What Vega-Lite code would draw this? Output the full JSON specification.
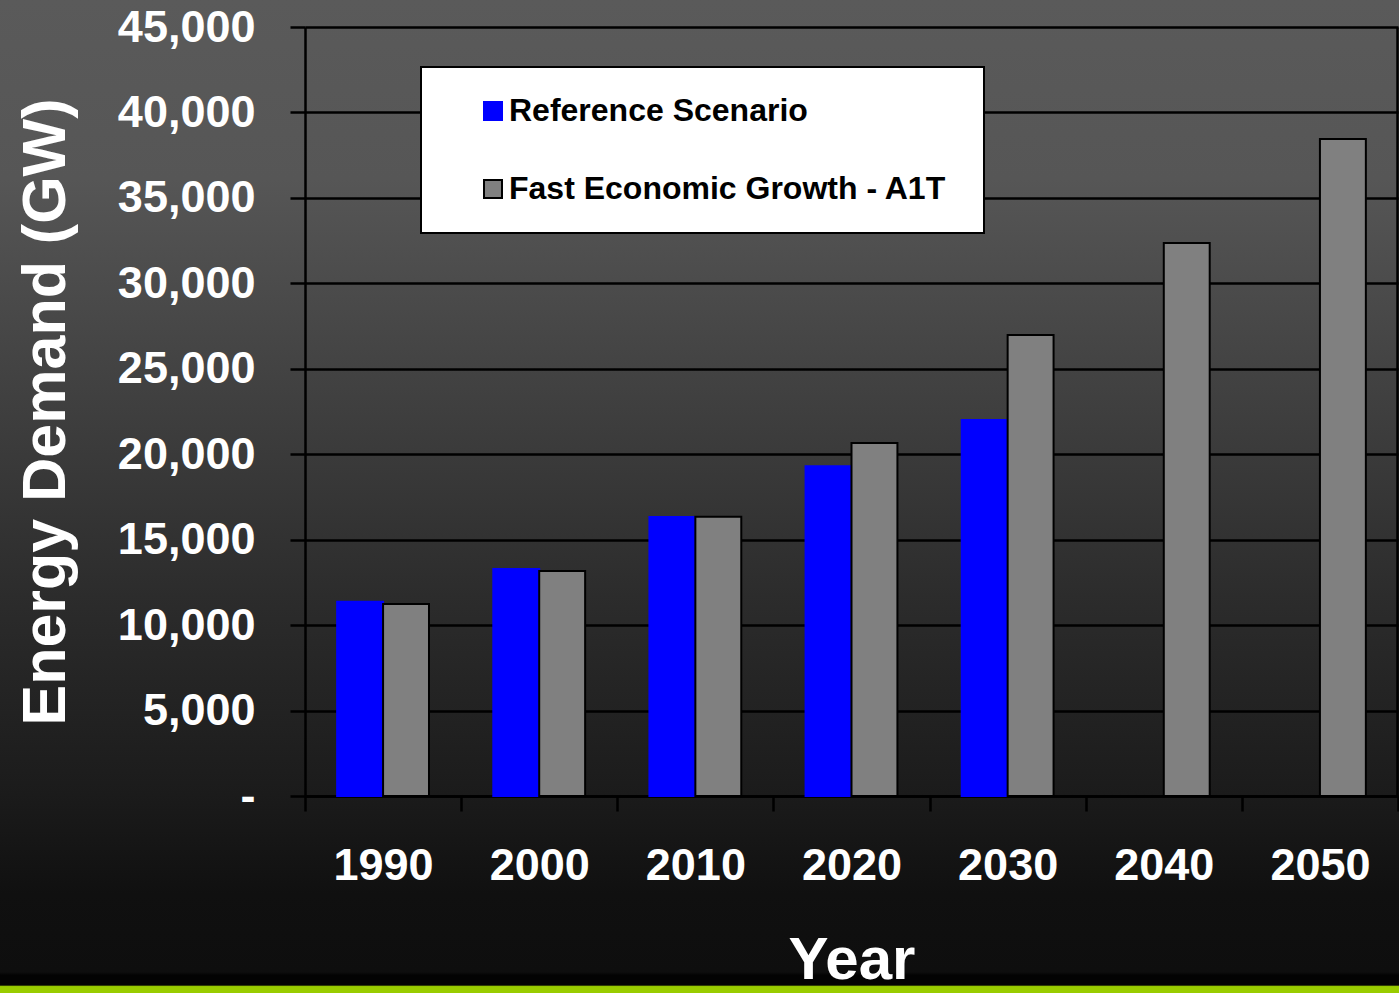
{
  "$schema": "https://vega.github.io/schema/vega-lite/v6.json",
  "width": 1399,
  "height": 993,
  "padding": 0,
  "autosize": {"type": "none"},
  "background": "#0e0e0e",
  "view": {
    "stroke": null,
    "fill": {
      "gradient": "linear",
      "x1": 0, "y1": 0, "x2": 0, "y2": 1,
      "stops": [
        {"offset": 0, "color": "#5a5a5a"},
        {"offset": 0.18, "color": "#565656"},
        {"offset": 0.4, "color": "#404040"},
        {"offset": 0.6, "color": "#2c2c2c"},
        {"offset": 0.8, "color": "#1b1b1b"},
        {"offset": 0.9, "color": "#101010"},
        {"offset": 0.979, "color": "#0e0e0e"},
        {"offset": 0.982, "color": "#030303"},
        {"offset": 0.992, "color": "#030303"},
        {"offset": 0.9935, "color": "#99cc00"},
        {"offset": 1, "color": "#99cc00"}
      ]
    }
  },
  "config": {"font": "Liberation Sans", "legend": {"strokeWidth": 2}},
  "data": {
    "values": [
      {"year": "1990", "scenario": "Reference Scenario", "value": 11370},
      {"year": "1990", "scenario": "Fast Economic Growth  - A1T", "value": 11240},
      {"year": "2000", "scenario": "Reference Scenario", "value": 13280},
      {"year": "2000", "scenario": "Fast Economic Growth  - A1T", "value": 13170},
      {"year": "2010", "scenario": "Reference Scenario", "value": 16320},
      {"year": "2010", "scenario": "Fast Economic Growth  - A1T", "value": 16340},
      {"year": "2020", "scenario": "Reference Scenario", "value": 19300},
      {"year": "2020", "scenario": "Fast Economic Growth  - A1T", "value": 20650},
      {"year": "2030", "scenario": "Reference Scenario", "value": 22000},
      {"year": "2030", "scenario": "Fast Economic Growth  - A1T", "value": 26980},
      {"year": "2040", "scenario": "Fast Economic Growth  - A1T", "value": 32360},
      {"year": "2050", "scenario": "Fast Economic Growth  - A1T", "value": 38450}
    ]
  },
  "layer": [
    {
      "mark": {"type": "bar", "strokeWidth": 2},
      "encoding": {
        "x": {
          "field": "year",
          "type": "nominal",
          "sort": ["1990", "2000", "2010", "2020", "2030", "2040", "2050"],
          "scale": {"range": [305, 1398], "paddingInner": 0, "paddingOuter": 0},
          "axis": {
            "orient": "bottom",
            "offset": -197,
            "title": "Year",
            "titleFont": "Liberation Sans Narrow, Liberation Sans",
            "titleFontSize": 60,
            "titleFontWeight": "bold",
            "titleColor": "#ffffff",
            "titlePadding": 43,
            "labelAngle": 0,
            "labelFontSize": 45,
            "labelFontWeight": "bold",
            "labelColor": "#ffffff",
            "labelPadding": 32,
            "tickBand": "extent",
            "tickSize": 15,
            "tickColor": "#000000",
            "tickWidth": 2.5,
            "domainColor": "#000000",
            "domainWidth": 2.5,
            "grid": false
          }
        },
        "xOffset": {
          "field": "scenario",
          "type": "nominal",
          "sort": ["Reference Scenario", "Fast Economic Growth  - A1T"],
          "scale": {"paddingInner": 0, "paddingOuter": 0.7}
        },
        "y": {
          "field": "value",
          "type": "quantitative",
          "scale": {"domain": [0, 45000], "range": [796, 27], "nice": false},
          "axis": {
            "orient": "left",
            "offset": -305,
            "values": [0, 5000, 10000, 15000, 20000, 25000, 30000, 35000, 40000, 45000],
            "labelExpr": "datum.value == 0 ? '-' : format(datum.value, ',')",
            "title": "Energy Demand (GW)",
            "titleFontSize": 61,
            "titleFontWeight": "bold",
            "titleColor": "#ffffff",
            "titlePadding": 40,
            "labelFontSize": 45,
            "labelFontWeight": "bold",
            "labelColor": "#ffffff",
            "labelPadding": 35,
            "tickSize": 15,
            "tickColor": "#000000",
            "tickWidth": 2.5,
            "domainColor": "#000000",
            "domainWidth": 2.5,
            "grid": true,
            "gridColor": "#000000",
            "gridWidth": 2.5,
            "gridOpacity": 1
          }
        },
        "fill": {
          "field": "scenario",
          "type": "nominal",
          "scale": {
            "domain": ["Reference Scenario", "Fast Economic Growth  - A1T"],
            "range": ["#0000ff", "#808080"]
          },
          "legend": {
            "orient": "none",
            "legendX": 421,
            "legendY": 67,
            "title": null,
            "fillColor": "#ffffff",
            "strokeColor": "#000000",
            "padding": 28,
            "symbolType": "square",
            "symbolSize": 324,
            "symbolStrokeWidth": 2,
            "symbolOffset": 28,
            "labelOffset": 0,
            "labelFontSize": 32,
            "labelFontWeight": "bold",
            "labelColor": "#000000",
            "labelLimit": 600,
            "rowPadding": 46
          }
        },
        "stroke": {
          "field": "scenario",
          "type": "nominal",
          "scale": {
            "domain": ["Reference Scenario", "Fast Economic Growth  - A1T"],
            "range": ["#0000ff", "#000000"]
          },
          "legend": {
            "orient": "none",
            "legendX": 421,
            "legendY": 67,
            "title": null,
            "fillColor": "#ffffff",
            "strokeColor": "#000000",
            "padding": 28,
            "symbolType": "square",
            "symbolSize": 324,
            "symbolStrokeWidth": 2,
            "symbolOffset": 28,
            "labelOffset": 0,
            "labelFontSize": 32,
            "labelFontWeight": "bold",
            "labelColor": "#000000",
            "labelLimit": 600,
            "rowPadding": 46
          }
        }
      }
    },
    {
      "mark": {"type": "point", "opacity": 0},
      "encoding": {
        "y": {
          "field": "value",
          "type": "quantitative",
          "axis": {
            "orient": "right",
            "offset": -2,
            "labels": false,
            "ticks": false,
            "grid": false,
            "title": null,
            "domainColor": "#000000",
            "domainWidth": 2.5
          }
        }
      }
    }
  ],
  "resolve": {"axis": {"y": "independent"}}
}
